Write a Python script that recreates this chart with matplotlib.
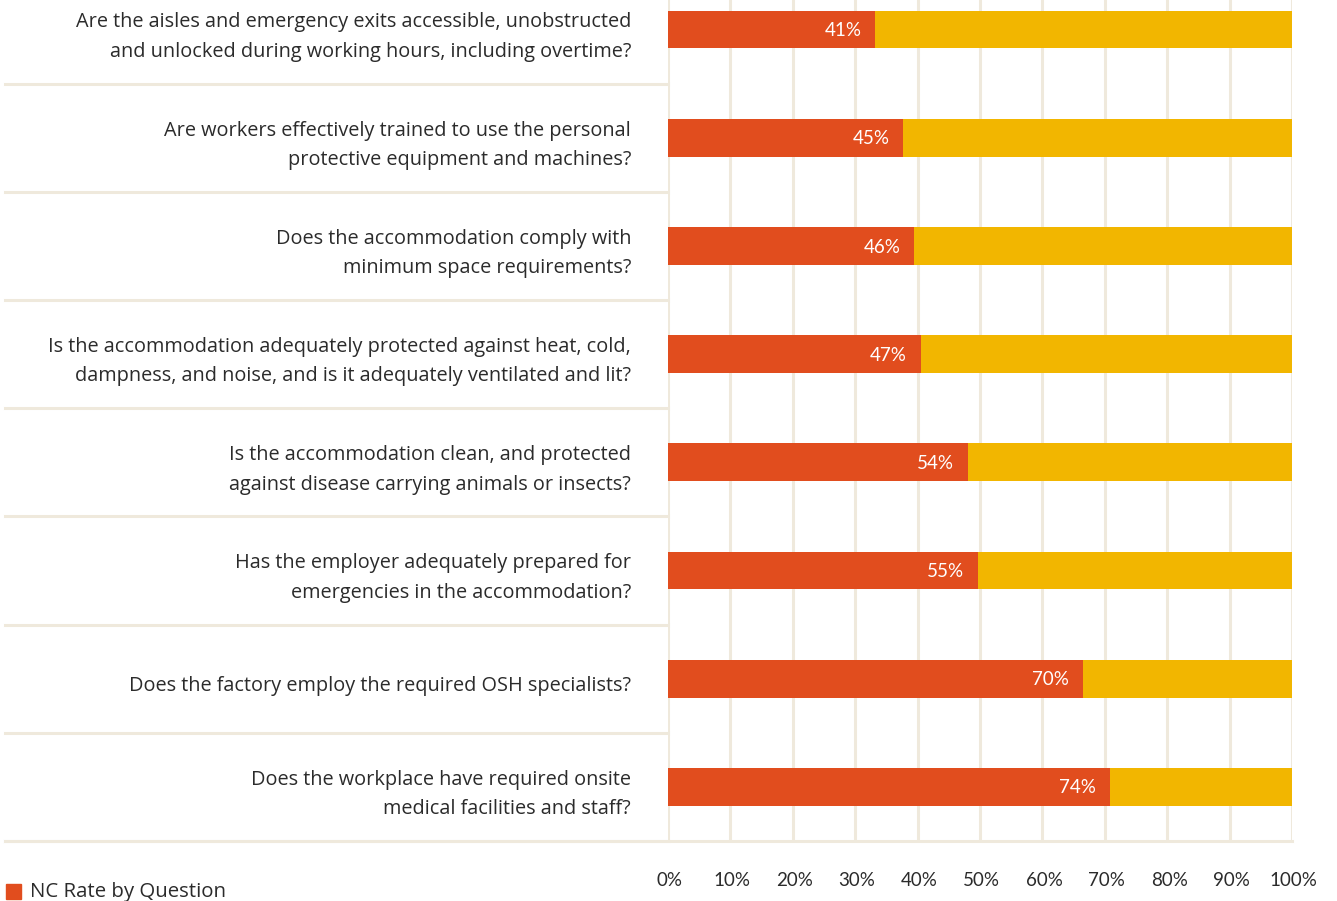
import matplotlib.pyplot as plt
from matplotlib.transforms import blended_transform_factory

questions = [
    "Are the aisles and emergency exits accessible, unobstructed\nand unlocked during working hours, including overtime?",
    "Are workers effectively trained to use the personal\nprotective equipment and machines?",
    "Does the accommodation comply with\nminimum space requirements?",
    "Is the accommodation adequately protected against heat, cold,\ndampness, and noise, and is it adequately ventilated and lit?",
    "Is the accommodation clean, and protected\nagainst disease carrying animals or insects?",
    "Has the employer adequately prepared for\nemergencies in the accommodation?",
    "Does the factory employ the required OSH specialists?",
    "Does the workplace have required onsite\nmedical facilities and staff?",
]
# printed NC rate labels
nc_rate = [41, 45, 46, 47, 54, 55, 70, 74]
# red bar lengths as drawn in the picture (%)
bar_length = [33.2, 37.7, 39.5, 40.5, 48.0, 49.6, 66.5, 70.8]
ticks = [0, 10, 20, 30, 40, 50, 60, 70, 80, 90, 100]

RED = "#E14D1E"
YELLOW = "#F2B600"
GRID = "#EFE9DC"
TEXT = "#2b2b2b"

W, H = 1337, 901
fig = plt.figure(figsize=(W / 100, H / 100), dpi=100)
fig.patch.set_facecolor("white")

left, right, bottom = 668 / W, 1292 / W, (H - 841) / H
ax = fig.add_axes([left, bottom, right - left, 1 - bottom])

rows = list(range(len(questions)))
remainder = [100 - b for b in bar_length]
ax.barh(rows, bar_length, height=0.35, color=RED, zorder=3)
ax.barh(rows, remainder, left=bar_length, height=0.35, color=YELLOW, zorder=3)

for y, b, v in zip(rows, bar_length, nc_rate):
    ax.text(b - 2.2, y + 0.01, f"{v}%", color="white", ha="right", va="center",
            fontsize=13.5, family="Lato", zorder=4)

ax.set_xlim(0, 100)
ax.set_ylim(7.5, -0.273)
for t in ticks:
    ax.axvline(t, color=GRID, lw=2.2, zorder=1)
ax.set_xticks([])
ax.set_yticks([])
for s in ax.spines.values():
    s.set_visible(False)

# question labels and row separators
tr = blended_transform_factory(fig.transFigure, ax.transData)
for y, q in zip(rows, questions):
    ax.text(631 / W, y + 0.07, q, transform=tr, ha="right", va="center",
            fontsize=14.3, family="Open Sans", color=TEXT, linespacing=1.64)
    ax.plot([5 / W, left], [y + 0.5, y + 0.5], transform=tr, color=GRID,
            lw=2.2, clip_on=False, zorder=1)
ax.plot([5 / W, right], [7.5, 7.5], transform=tr, color=GRID, lw=2.2,
        clip_on=False, zorder=1)

# x tick labels
trx = blended_transform_factory(ax.transData, fig.transFigure)
for t in ticks:
    ax.text(t + 0.3, (H - 881) / H, f"{t}%", transform=trx, ha="center",
            va="center", fontsize=13.5, family="Lato", color=TEXT)

# legend
fig.patches.append(plt.Rectangle((6 / W, (H - 899) / H), 15 / W, 15 / H,
                                 transform=fig.transFigure, color=RED))
fig.text(30 / W, (H - 892) / H, "NC Rate by Question", ha="left", va="center",
         fontsize=14.7, family="Open Sans", color=TEXT)

fig.savefig("out.png", dpi=100)
